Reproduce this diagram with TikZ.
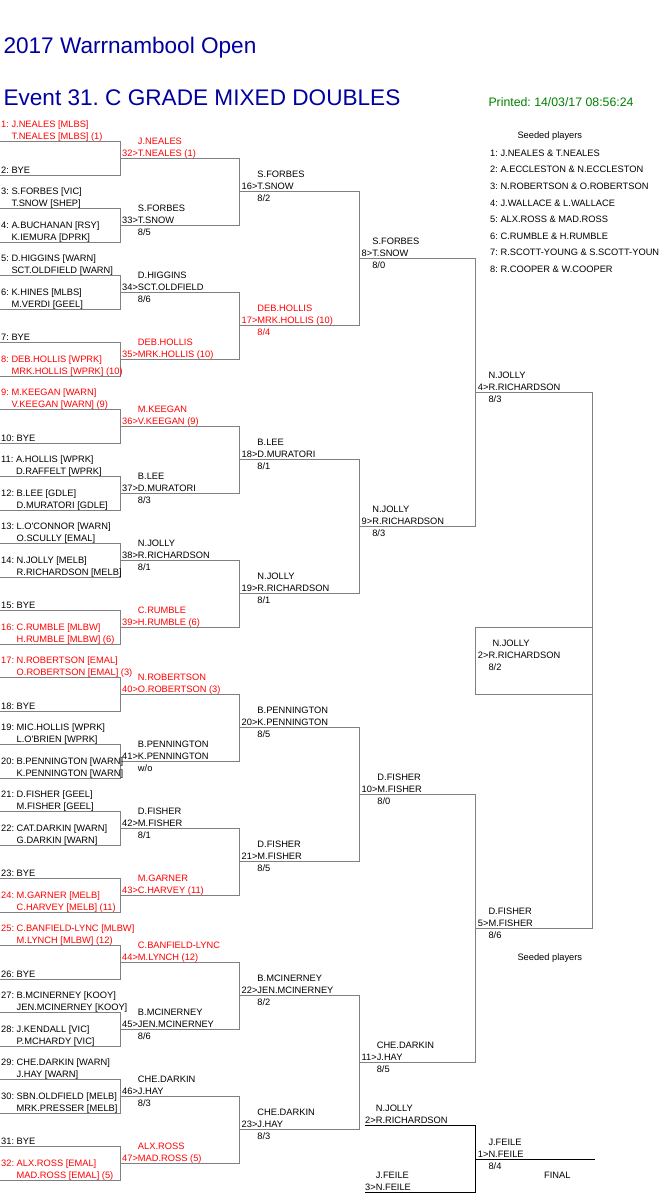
\documentclass[tikz,border=0pt]{standalone}
\usepackage{fontspec}
\setmainfont{Liberation Sans}
\usetikzlibrary{calc}
\frenchspacing

\definecolor{titleblue}{RGB}{0,0,160}
\definecolor{printgreen}{RGB}{0,128,0}
\definecolor{seedred}{RGB}{255,0,0}
\definecolor{linegray}{RGB}{128,128,128}

% entry of the draw: number, first player, second player
\newcommand{\pairentry}[5][black]{%
  \node[namelbl, text=#1] (#2-a) at ([shift={(1pt,14pt)}]#2) {#3: #4};
  \node[namelbl, text=#1] (#2-b) at ([shift={(1pt,2pt)}]#2) {\phantom{#3:\ }#5};
}
\newcommand{\byeentry}[2]{%
  \node[namelbl] (#1-b) at ([shift={(1pt,2pt)}]#1) {#2: BYE};
}
% winner of a match: match number, pair, score
\newcommand{\winlabel}[6][black]{%
  \node[namelbl, text=#1] (#2-a) at ([shift={(2pt,14pt)}]#2) {\phantom{#3>}#4};
  \node[namelbl, text=#1] (#2-b) at ([shift={(2pt,2pt)}]#2) {#3>#5};
  \if\relax\detokenize{#6}\relax\else
  \node[namelbl, text=#1] (#2-c) at ([shift={(2pt,-10pt)}]#2) {\phantom{#3>}#6};
  \fi
}

\begin{document}
\begin{tikzpicture}[x=1pt, y=-1pt,
    namelbl/.style={anchor=base west, inner sep=0pt, font=\fontsize{9.3}{11}\selectfont},
    bline/.style={draw=linegray, line width=1pt},
    fline/.style={draw=black, line width=1pt}]

        \fill[white] (0,0) rectangle (661,1196);
        \useasboundingbox (0,0) rectangle (661,1196);

        % titles
        \node[anchor=base west, inner sep=0pt, text=titleblue, font=\fontsize{22.6}{26}\selectfont] (title) at (3.3,53.3) {2017 Warrnambool Open};
        \node[anchor=base west, inner sep=0pt, text=titleblue, font=\fontsize{22.6}{26}\selectfont] (event) at (3.3,105.7) {Event 31. C GRADE MIXED DOUBLES};
        \node[anchor=base west, inner sep=0pt, text=printgreen, font=\fontsize{12.3}{14}\selectfont] (printed) at (488.3,106.7) {Printed: 14/03/17 08:56:24};

        % bracket lines
        \foreach \rnd/\n/\xa/\xb in {1/32/0/120, 2/16/120/239.5, 3/8/239.5/359.5, 4/4/359.5/475.7, 5/2/475.7/592.3} {
            \pgfmathtruncatemacro\pw{2^(\rnd-1)}
            \foreach \k in {1,...,\n} {
                \pgfmathsetmacro\yy{141.7+33.5*(\pw*\k-(\pw+1)/2)}
                \coordinate (r\rnd-\k-s) at (\xa,\yy);
                \coordinate (r\rnd-\k-e) at (\xb,\yy);
            }
        }
        \foreach \rnd/\n in {1/16, 2/8, 3/4, 4/2, 5/1} {
            \foreach \j in {1,...,\n} {
                \pgfmathtruncatemacro\ka{2*\j-1}
                \pgfmathtruncatemacro\kb{2*\j}
                \draw[bline] (r\rnd-\ka-s) -- (r\rnd-\ka-e) -- (r\rnd-\kb-e) -- (r\rnd-\kb-s);
            }
        }

        % semi final box
        \coordinate (sf) at (475.7,660.95);
        \coordinate (box-tl) at (475.7,627.3);
        \coordinate (box-tr) at (592.3,627.3);
        \coordinate (box-bl) at (475.7,694.3);
        \coordinate (box-br) at (592.3,694.3);
        \draw[bline] (box-tr) -- (box-tl) -- (box-bl) -- (box-br);

        % final
        \coordinate (po-2-s) at (365,1125.7);
        \coordinate (po-2-e) at (475.7,1125.7);
        \coordinate (po-3-s) at (365,1192.3);
        \coordinate (po-3-e) at (475.7,1192.3);
        \coordinate (fin-s) at (475.7,1159.3);
        \coordinate (fin-e) at (595,1159.3);
        \draw[fline] (po-2-s) -- (po-2-e) -- (po-3-e) -- (po-3-s);
        \draw[fline] (fin-s) -- (fin-e);

        % first round
        \pairentry[seedred]{r1-1-s}{1}{J.NEALES [MLBS]}{T.NEALES [MLBS] (1)}
        \byeentry{r1-2-s}{2}
        \pairentry{r1-3-s}{3}{S.FORBES [VIC]}{T.SNOW [SHEP]}
        \pairentry{r1-4-s}{4}{A.BUCHANAN [RSY]}{K.IEMURA [DPRK]}
        \pairentry{r1-5-s}{5}{D.HIGGINS [WARN]}{SCT.OLDFIELD [WARN]}
        \pairentry{r1-6-s}{6}{K.HINES [MLBS]}{M.VERDI [GEEL]}
        \byeentry{r1-7-s}{7}
        \pairentry[seedred]{r1-8-s}{8}{DEB.HOLLIS [WPRK]}{MRK.HOLLIS [WPRK] (10)}
        \pairentry[seedred]{r1-9-s}{9}{M.KEEGAN [WARN]}{V.KEEGAN [WARN] (9)}
        \byeentry{r1-10-s}{10}
        \pairentry{r1-11-s}{11}{A.HOLLIS [WPRK]}{D.RAFFELT [WPRK]}
        \pairentry{r1-12-s}{12}{B.LEE [GDLE]}{D.MURATORI [GDLE]}
        \pairentry{r1-13-s}{13}{L.O\textquotesingle CONNOR [WARN]}{O.SCULLY [EMAL]}
        \pairentry{r1-14-s}{14}{N.JOLLY [MELB]}{R.RICHARDSON [MELB]}
        \byeentry{r1-15-s}{15}
        \pairentry[seedred]{r1-16-s}{16}{C.RUMBLE [MLBW]}{H.RUMBLE [MLBW] (6)}
        \pairentry[seedred]{r1-17-s}{17}{N.ROBERTSON [EMAL]}{O.ROBERTSON [EMAL] (3)}
        \byeentry{r1-18-s}{18}
        \pairentry{r1-19-s}{19}{MIC.HOLLIS [WPRK]}{L.O\textquotesingle BRIEN [WPRK]}
        \pairentry{r1-20-s}{20}{B.PENNINGTON [WARN]}{K.PENNINGTON [WARN]}
        \pairentry{r1-21-s}{21}{D.FISHER [GEEL]}{M.FISHER [GEEL]}
        \pairentry{r1-22-s}{22}{CAT.DARKIN [WARN]}{G.DARKIN [WARN]}
        \byeentry{r1-23-s}{23}
        \pairentry[seedred]{r1-24-s}{24}{M.GARNER [MELB]}{C.HARVEY [MELB] (11)}
        \pairentry[seedred]{r1-25-s}{25}{C.BANFIELD-LYNC [MLBW]}{M.LYNCH [MLBW] (12)}
        \byeentry{r1-26-s}{26}
        \pairentry{r1-27-s}{27}{B.MCINERNEY [KOOY]}{JEN.MCINERNEY [KOOY]}
        \pairentry{r1-28-s}{28}{J.KENDALL [VIC]}{P.MCHARDY [VIC]}
        \pairentry{r1-29-s}{29}{CHE.DARKIN [WARN]}{J.HAY [WARN]}
        \pairentry{r1-30-s}{30}{SBN.OLDFIELD [MELB]}{MRK.PRESSER [MELB]}
        \byeentry{r1-31-s}{31}
        \pairentry[seedred]{r1-32-s}{32}{ALX.ROSS [EMAL]}{MAD.ROSS [EMAL] (5)}

        % second round
        \winlabel[seedred]{r2-1-s}{32}{J.NEALES}{T.NEALES (1)}{}
        \winlabel{r2-2-s}{33}{S.FORBES}{T.SNOW}{8/5}
        \winlabel{r2-3-s}{34}{D.HIGGINS}{SCT.OLDFIELD}{8/6}
        \winlabel[seedred]{r2-4-s}{35}{DEB.HOLLIS}{MRK.HOLLIS (10)}{}
        \winlabel[seedred]{r2-5-s}{36}{M.KEEGAN}{V.KEEGAN (9)}{}
        \winlabel{r2-6-s}{37}{B.LEE}{D.MURATORI}{8/3}
        \winlabel{r2-7-s}{38}{N.JOLLY}{R.RICHARDSON}{8/1}
        \winlabel[seedred]{r2-8-s}{39}{C.RUMBLE}{H.RUMBLE (6)}{}
        \winlabel[seedred]{r2-9-s}{40}{N.ROBERTSON}{O.ROBERTSON (3)}{}
        \winlabel{r2-10-s}{41}{B.PENNINGTON}{K.PENNINGTON}{w/o}
        \winlabel{r2-11-s}{42}{D.FISHER}{M.FISHER}{8/1}
        \winlabel[seedred]{r2-12-s}{43}{M.GARNER}{C.HARVEY (11)}{}
        \winlabel[seedred]{r2-13-s}{44}{C.BANFIELD-LYNC}{M.LYNCH (12)}{}
        \winlabel{r2-14-s}{45}{B.MCINERNEY}{JEN.MCINERNEY}{8/6}
        \winlabel{r2-15-s}{46}{CHE.DARKIN}{J.HAY}{8/3}
        \winlabel[seedred]{r2-16-s}{47}{ALX.ROSS}{MAD.ROSS (5)}{}

        % third round
        \winlabel{r3-1-s}{16}{S.FORBES}{T.SNOW}{8/2}
        \winlabel[seedred]{r3-2-s}{17}{DEB.HOLLIS}{MRK.HOLLIS (10)}{8/4}
        \winlabel{r3-3-s}{18}{B.LEE}{D.MURATORI}{8/1}
        \winlabel{r3-4-s}{19}{N.JOLLY}{R.RICHARDSON}{8/1}
        \winlabel{r3-5-s}{20}{B.PENNINGTON}{K.PENNINGTON}{8/5}
        \winlabel{r3-6-s}{21}{D.FISHER}{M.FISHER}{8/5}
        \winlabel{r3-7-s}{22}{B.MCINERNEY}{JEN.MCINERNEY}{8/2}
        \winlabel{r3-8-s}{23}{CHE.DARKIN}{J.HAY}{8/3}

        % quarter finals
        \winlabel{r4-1-s}{8}{S.FORBES}{T.SNOW}{8/0}
        \winlabel{r4-2-s}{9}{N.JOLLY}{R.RICHARDSON}{8/3}
        \winlabel{r4-3-s}{10}{D.FISHER}{M.FISHER}{8/0}
        \winlabel{r4-4-s}{11}{CHE.DARKIN}{J.HAY}{8/5}

        % semi finals
        \winlabel{r5-1-s}{4}{N.JOLLY}{R.RICHARDSON}{8/3}
        \winlabel{r5-2-s}{5}{D.FISHER}{M.FISHER}{8/6}
        \node[namelbl] (sf-a) at ([shift={(6pt,14pt)}]sf) {\phantom{2>}N.JOLLY};
        \node[namelbl] (sf-b) at ([shift={(2pt,2pt)}]sf) {2>R.RICHARDSON};
        \node[namelbl] (sf-c) at ([shift={(2pt,-10pt)}]sf) {\phantom{2>}8/2};

        % final
        \node[namelbl] (po-2-a) at ([shift={(0pt,14pt)}]po-2-s) {\phantom{2>}N.JOLLY};
        \node[namelbl] (po-2-b) at ([shift={(0pt,2pt)}]po-2-s) {2>R.RICHARDSON};
        \node[namelbl] (po-3-a) at ([shift={(0pt,14pt)}]po-3-s) {\phantom{3>}J.FEILE};
        \node[namelbl] (po-3-b) at ([shift={(0pt,2pt)}]po-3-s) {3>N.FEILE};
        \node[namelbl] (fin-a) at ([shift={(2pt,14pt)}]fin-s) {\phantom{1>}J.FEILE};
        \node[namelbl] (fin-b) at ([shift={(2pt,2pt)}]fin-s) {1>N.FEILE};
        \node[namelbl] (fin-c) at ([shift={(2pt,-10pt)}]fin-s) {\phantom{1>}8/4};
        \node[namelbl] (final) at (544,1178) {FINAL};

        % seeded players
        \node[namelbl] (seeds) at (517.3,139) {Seeded players};
        \node[namelbl] (seed1) at (490,156) {1: J.NEALES \& T.NEALES};
        \node[namelbl] (seed2) at (490,172.7) {2: A.ECCLESTON \& N.ECCLESTON};
        \node[namelbl] (seed3) at (490,189.3) {3: N.ROBERTSON \& O.ROBERTSON};
        \node[namelbl] (seed4) at (490,206) {4: J.WALLACE \& L.WALLACE};
        \node[namelbl] (seed5) at (490,222.6) {5: ALX.ROSS \& MAD.ROSS};
        \node[namelbl] (seed6) at (490,239.3) {6: C.RUMBLE \& H.RUMBLE};
        \node[namelbl] (seed7) at (490,255.9) {7: R.SCOTT-YOUNG \& S.SCOTT-YOUN};
        \node[namelbl] (seed8) at (490,272.6) {8: R.COOPER \& W.COOPER};
        \node[namelbl] (seeds-b) at (517.3,960.3) {Seeded players};

\end{tikzpicture}
\end{document}
